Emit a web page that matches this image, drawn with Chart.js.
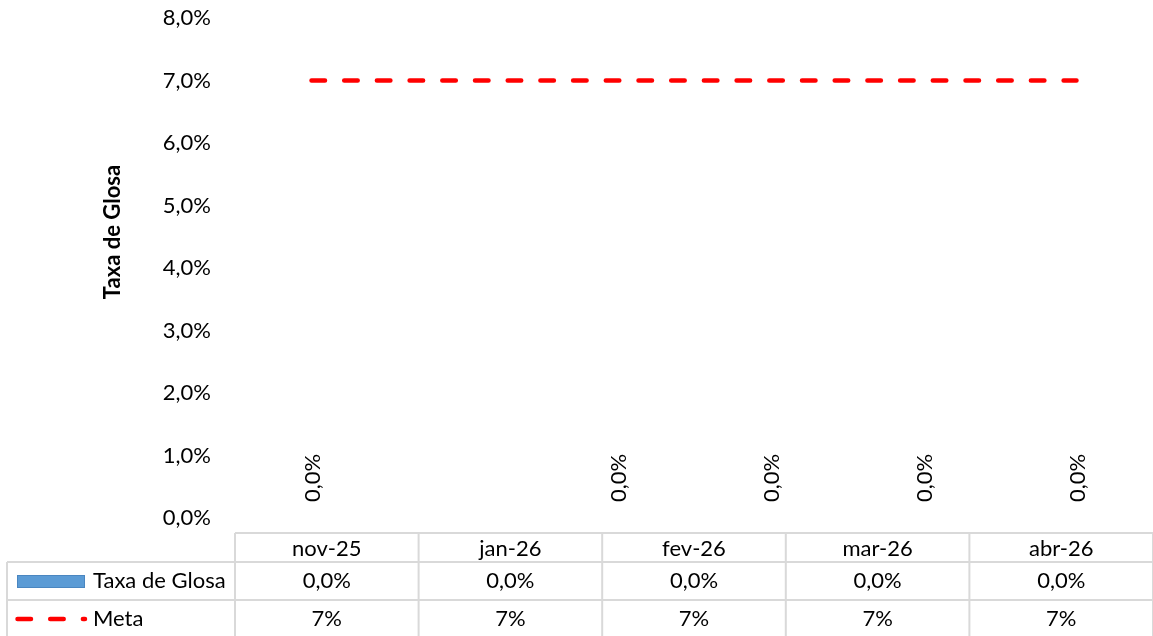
<!DOCTYPE html>
<html>
<head>
<meta charset="utf-8">
<script src="https://cdn.jsdelivr.net/npm/chart.js@4/dist/chart.umd.min.js"></script>
<style>
html,body{margin:0;padding:0;background:#fff;}
#wrap{width:1153px;height:636px;}
</style>
</head>
<body>
<div id="wrap"><canvas id="c" width="1153" height="636"></canvas></div>
<script>
// ---- data ----
const categories = ['nov-25', 'jan-26', 'fev-26', 'mar-26', 'abr-26'];
const taxaGlosa = [0, 0, 0, 0, 0];
const meta = [7, 7, 7, 7, 7];
// plot slots as laid out in the original chart (one empty slot after nov-25)
const plotSlots = ['nov-25', 'dez-25', 'jan-26', 'fev-26', 'mar-26', 'abr-26'];
const yMin = 0, yMax = 8, yStep = 1;
const seriesNames = ['Taxa de Glosa', 'Meta'];

const FONT = 'Lato, "Open Sans", sans-serif';
const FS = 22;
const pct1 = v => v.toFixed(1).replace('.', ',') + '%';
const pct0 = v => v.toFixed(0) + '%';

const tablePlugin = {
  id: 'tablePlugin',
  afterDraw(chart) {
    const ctx = chart.ctx;
    const xs = chart.scales.x;
    const ca = chart.chartArea;
    const n = categories.length;
    const colW = (ca.right - ca.left) / n;
    const top = ca.bottom + 15, r1 = top + 29, r2 = r1 + 38, r3 = 636;
    ctx.save();
    ctx.strokeStyle = '#d9d9d9';
    ctx.lineWidth = 2;
    ctx.beginPath();
    ctx.moveTo(ca.left, top); ctx.lineTo(ca.right, top);
    ctx.moveTo(7, r1); ctx.lineTo(ca.right, r1);
    ctx.moveTo(7, r2); ctx.lineTo(ca.right, r2);
    ctx.moveTo(7, r1); ctx.lineTo(7, r3);
    for (let i = 0; i <= n; i++) {
      const x = ca.left + i * colW;
      ctx.moveTo(x, top); ctx.lineTo(x, r3);
    }
    ctx.stroke();

    ctx.fillStyle = '#000';
    ctx.font = FS + 'px ' + FONT;
    ctx.textAlign = 'center';
    ctx.textBaseline = 'middle';
    categories.forEach((c, i) => {
      const x = xs.getPixelForValue(i);
      ctx.fillText(c, x, (top + r1) / 2 + 1);
      ctx.fillText(pct1(taxaGlosa[i]), x, (r1 + r2) / 2);
      ctx.fillText(pct0(meta[i]), x, (r2 + r3) / 2 + 1);
    });
    // legend keys
    ctx.textAlign = 'left';
    ctx.fillText(seriesNames[0], 93, (r1 + r2) / 2);
    ctx.fillText(seriesNames[1], 93, (r2 + r3) / 2 + 1);
    ctx.fillStyle = '#5b9bd5';
    ctx.fillRect(17, 575, 68, 13);
    ctx.strokeStyle = '#4a86c0';
    ctx.lineWidth = 1;
    ctx.strokeRect(17.5, 575.5, 67, 12);
    ctx.strokeStyle = '#ff0000';
    ctx.lineWidth = 4.5;
    ctx.lineCap = 'round';
    ctx.setLineDash([13.5, 19.2]);
    ctx.beginPath();
    ctx.moveTo(17.5, 619); ctx.lineTo(85, 619);
    ctx.stroke();
    ctx.restore();
  }
};

const labelPlugin = {
  id: 'labelPlugin',
  afterDatasetsDraw(chart) {
    const ctx = chart.ctx;
    const m = chart.getDatasetMeta(0);
    const y = chart.scales.y;
    ctx.save();
    ctx.fillStyle = '#000';
    ctx.font = FS + 'px ' + FONT;
    ctx.textAlign = 'left';
    ctx.textBaseline = 'middle';
    m.data.forEach((el, i) => {
      const v = chart.data.datasets[0].data[i].y;
      ctx.save();
      ctx.translate(el.x + 1, y.getPixelForValue(v) - 16);
      ctx.rotate(-Math.PI / 2);
      ctx.fillText(pct1(v), 0, 0);
      ctx.restore();
    });
    // y-axis title
    const ca = chart.chartArea;
    ctx.font = 'bold ' + FS + 'px ' + FONT;
    ctx.textAlign = 'center';
    ctx.translate(113, (ca.top + ca.bottom) / 2 - 36);
    ctx.rotate(-Math.PI / 2);
    ctx.fillText('Taxa de Glosa', 0, 0);
    ctx.restore();
  }
};

new Chart(document.getElementById('c'), {
  data: {
    labels: categories,
    datasets: [
      {
        type: 'bar',
        label: seriesNames[0],
        data: categories.map((c, i) => ({ x: c, y: taxaGlosa[i] })),
        xAxisID: 'xs',
        backgroundColor: '#5b9bd5',
        borderWidth: 0,
        order: 2
      },
      {
        type: 'line',
        label: seriesNames[1],
        data: categories.map((c, i) => ({ x: c, y: meta[i] })),
        xAxisID: 'xs',
        borderColor: '#ff0000',
        borderWidth: 4.5,
        borderDash: [13.5, 19.2],
        borderCapStyle: 'round',
        pointRadius: 0,
        fill: false,
        tension: 0,
        order: 1
      }
    ]
  },
  options: {
    responsive: false,
    animation: false,
    devicePixelRatio: 1,
    layout: { padding: { top: 18, bottom: 118, left: 0, right: 0 } },
    plugins: { legend: { display: false }, tooltip: { enabled: false } },
    scales: {
      x: { type: 'category', labels: categories, display: false, offset: true },
      xs: { type: 'category', labels: plotSlots, display: false, offset: true },
      y: {
        min: yMin, max: yMax,
        afterFit(s) { s.width = 235; s.paddingTop = 0; s.paddingBottom = 0; },
        grid: { display: false, drawTicks: false },
        border: { display: false },
        ticks: {
          stepSize: yStep,
          padding: 24,
          color: '#000',
          font: { family: FONT, size: FS },
          callback: v => pct1(v)
        }
      }
    }
  },
  plugins: [tablePlugin, labelPlugin]
});
</script>
</body>
</html>
